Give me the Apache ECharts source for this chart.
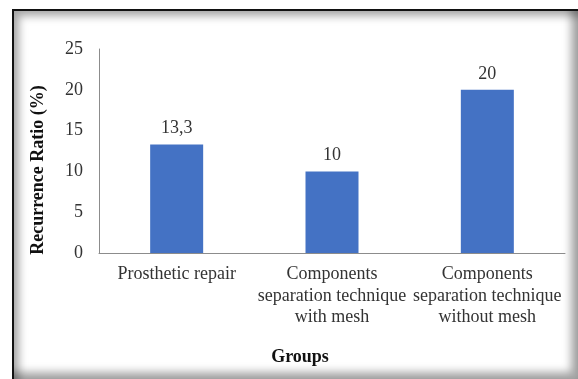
<!DOCTYPE html>
<html>
<head>
<meta charset="utf-8">
<script src="https://cdn.jsdelivr.net/npm/echarts@6/dist/echarts.min.js"></script>
<style>
    html, body { margin: 0; padding: 0; background: #fff; }
    #frame {
        position: absolute; left: 12px; top: 9px; width: 566px; height: 370px;
        box-sizing: border-box;
        border-left: 2px solid #111; border-top: 2px solid #111;
        box-shadow: inset 5px 5px 9px rgba(0,0,0,0.35), inset -7px -7px 9px rgba(0,0,0,0.35);
    }
    #chart { position: absolute; left: 0; top: 0; width: 578px; height: 379px; }
</style>
</head>
<body>
<div id="frame"></div>
<div id="chart"></div>
<script>
var groups = ['Prosthetic repair', 'Components\nseparation technique\nwith mesh', 'Components\nseparation technique\nwithout mesh'];
var recurrence = [13.3, 10, 20];
var yTicks = [0, 5, 10, 15, 20, 25];

function drawChart() {
    var myChart = echarts.init(document.getElementById('chart'));
    var option = {
        textStyle: {fontFamily: 'Liberation Serif'},
        grid: {
            left: 99,
            right: 13,
            top: 49,
            bottom: 126,
            containLabel: false
        },
        xAxis: {
            type: 'category',
            data: groups,
            axisTick: {show: false},
            axisLine: {
                lineStyle: {color: '#8c8c8c', width: 1}
            },
            axisLabel: {
                interval: 0,
                hideOverlap: false,
                margin: 11,
                fontSize: 18,
                lineHeight: 21.5,
                color: '#333',
                fontFamily: 'Liberation Serif'
            }
        },
        yAxis: {
            type: 'value',
            min: yTicks[0],
            max: yTicks[yTicks.length - 1],
            interval: 5,
            splitLine: {show: false},
            axisTick: {show: false},
            axisLine: {
                show: true,
                lineStyle: {color: '#8c8c8c', width: 1}
            },
            axisLabel: {
                margin: 16,
                fontSize: 18,
                color: '#333',
                fontFamily: 'Liberation Serif'
            }
        },
        graphic: [
            {
                type: 'text',
                x: 38,
                y: 170,
                rotation: Math.PI / 2,
                style: {
                    text: 'Recurrence Ratio (%)',
                    font: 'bold 18px "Liberation Serif"',
                    fill: '#111',
                    textAlign: 'center',
                    textVerticalAlign: 'middle'
                }
            },
            {
                type: 'text',
                x: 300,
                y: 357,
                style: {
                    text: 'Groups',
                    font: 'bold 18px "Liberation Serif"',
                    fill: '#111',
                    textAlign: 'center',
                    textVerticalAlign: 'middle'
                }
            }
        ],
        series: [
            {
                type: 'bar',
                data: recurrence,
                barWidth: 53,
                itemStyle: {color: '#4472c4'},
                label: {
                    show: true,
                    position: 'top',
                    distance: 7,
                    fontSize: 18,
                    color: '#333',
                    fontFamily: 'Liberation Serif',
                    formatter: function (p) {
                        return String(p.value).replace('.', ',');
                    }
                }
            }
        ]
    };
    myChart.setOption(option);
}
drawChart();
</script>
</body>
</html>
